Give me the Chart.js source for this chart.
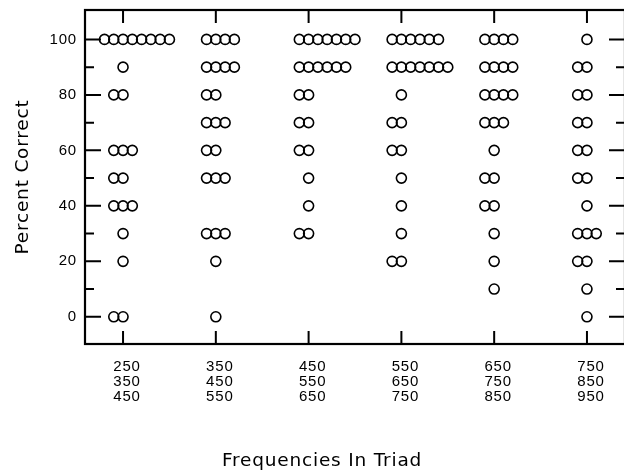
<!DOCTYPE html>
<html>
<head>
<meta charset="utf-8">
<script src="https://cdn.jsdelivr.net/npm/chart.js@4/dist/chart.umd.min.js"></script>
<style>
  html, body { margin: 0; padding: 0; background: #fff; overflow: hidden; }
  #wrap { position: relative; width: 644px; height: 476px; }
</style>
</head>
<body>
<div id="wrap"><canvas id="c" width="644" height="476"></canvas></div>
<script>
// Percent-correct levels (rows of the dot plot)
const levels = [100, 90, 80, 70, 60, 50, 40, 30, 20, 10, 0];

// Frequency triads (one column each)
const triads = [
  ["250", "350", "450"],
  ["350", "450", "550"],
  ["450", "550", "650"],
  ["550", "650", "750"],
  ["650", "750", "850"],
  ["750", "850", "950"]
];

// Number of listeners at each level, same order as `levels`
const counts250 = [8, 1, 2, 0, 3, 2, 3, 1, 1, 0, 2];
const counts350 = [4, 4, 2, 3, 2, 3, 0, 3, 1, 0, 1];
const counts450 = [7, 6, 2, 2, 2, 1, 1, 2, 0, 0, 0];
const counts550 = [6, 7, 1, 2, 2, 1, 1, 1, 2, 0, 0];
const counts650 = [4, 4, 4, 3, 1, 2, 2, 1, 1, 1, 0];
const counts750 = [1, 2, 2, 2, 2, 2, 1, 3, 2, 1, 1];

const yMajorTicks = [0, 20, 40, 60, 80, 100];
const yMinorTicks = [10, 30, 50, 70, 90];

const countsByTriad = [counts250, counts350, counts450, counts550, counts650, counts750];

// Markers sharing a level are laid side by side, STEP category units apart
const STEP = 0.1;
function rowOffsets(n) {
  const start = n === 1 ? 0 : -Math.ceil((n - 1) / 6);
  return Array.from({ length: n }, (_, k) => (start + k) * STEP);
}

const points = [];
countsByTriad.forEach((counts, i) => {
  counts.forEach((n, j) => {
    rowOffsets(n).forEach(dx => points.push({ x: i + dx, y: levels[j] }));
  });
});

const W = 644, H = 476;
const PLOT_LEFT = 85, PLOT_RIGHT = 625, PLOT_TOP = 10, PLOT_BOTTOM = 344;
const TITLE_FONT = { family: "DejaVu Sans", size: 18.5, weight: "normal", lineHeight: 1.2 };
const TITLE_PAD = { top: 8, bottom: 4 };
const titleBoxH = TITLE_PAD.top + TITLE_PAD.bottom + TITLE_FONT.size * TITLE_FONT.lineHeight;
const NUM_FONT = { family: "Liberation Sans", size: 15, lineHeight: 0.97 };

// Slightly widened lettering for all chart text
const spacing = {
  id: "spacing",
  beforeUpdate(chart) { chart.ctx.letterSpacing = "0.8px"; },
  beforeDraw(chart) { chart.ctx.letterSpacing = "0.8px"; }
};

// Boxed frame with inward-pointing tick marks on all four sides
const frameAndTicks = {
  id: "frameAndTicks",
  afterDraw(chart) {
    const { ctx, chartArea: a, scales: { x, y } } = chart;
    ctx.save();
    ctx.strokeStyle = "#000";
    ctx.lineWidth = 2;
    ctx.lineCap = "butt";
    ctx.beginPath();
    [[yMajorTicks, 16], [yMinorTicks, 9]].forEach(([vals, len]) => {
      vals.forEach(v => {
        const py = y.getPixelForValue(v);
        ctx.moveTo(a.left, py); ctx.lineTo(a.left + len, py);
        ctx.moveTo(a.right, py); ctx.lineTo(a.right - len, py);
      });
    });
    triads.forEach((_, i) => {
      const px = x.getPixelForValue(i);
      ctx.moveTo(px, a.top); ctx.lineTo(px, a.top + 13);
      ctx.moveTo(px, a.bottom); ctx.lineTo(px, a.bottom - 13);
    });
    ctx.stroke();
    ctx.lineWidth = 2.2;
    ctx.strokeRect(a.left, a.top, a.right - a.left, a.bottom - a.top);
    ctx.restore();
  }
};

new Chart(document.getElementById("c"), {
  type: "scatter",
  data: {
    datasets: [{
      data: points,
      pointStyle: "circle",
      pointRadius: 5,
      pointBorderWidth: 1.6,
      pointBorderColor: "#000",
      pointBackgroundColor: "rgba(0,0,0,0)",
      showLine: false,
      clip: false
    }]
  },
  options: {
    responsive: false,
    devicePixelRatio: 1,
    animation: false,
    events: [],
    layout: { padding: { top: PLOT_TOP, left: 0, right: 0, bottom: 0 } },
    plugins: {
      legend: { display: false },
      tooltip: { enabled: false },
      title: {
        display: true,
        position: "bottom",
        text: "Frequencies In Triad",
        color: "#000",
        font: TITLE_FONT,
        padding: TITLE_PAD
      }
    },
    scales: {
      x: {
        type: "linear",
        position: "bottom",
        min: -0.41,
        max: 5.41,
        afterBuildTicks: s => { s.ticks = triads.map((_, i) => ({ value: i })); },
        ticks: {
          callback: v => triads[v],
          color: "#000",
          font: NUM_FONT,
          padding: 16,
          labelOffset: 4,
          maxRotation: 0,
          autoSkip: false
        },
        grid: { display: false, drawTicks: false },
        border: { display: false },
        afterFit: s => {
          s.height = H - PLOT_BOTTOM - titleBoxH;
          s.paddingLeft = 0; s.paddingRight = 0;
        }
      },
      y: {
        type: "linear",
        position: "left",
        min: -9.8,
        max: 110.6,
        afterBuildTicks: s => { s.ticks = yMajorTicks.map(v => ({ value: v })); },
        ticks: { color: "#000", font: NUM_FONT, padding: 8 },
        grid: { display: false, drawTicks: false },
        border: { display: false },
        title: {
          display: true,
          text: "Percent Correct",
          color: "#000",
          font: TITLE_FONT,
          padding: { top: 12, bottom: 0 }
        },
        afterFit: s => {
          s.width = PLOT_LEFT;
          s.paddingTop = 0; s.paddingBottom = 0;
        }
      },
      y2: {
        type: "linear",
        position: "right",
        display: true,
        ticks: { display: false },
        grid: { display: false, drawTicks: false },
        border: { display: false },
        afterFit: s => {
          s.width = W - PLOT_RIGHT;
          s.paddingTop = 0; s.paddingBottom = 0;
        }
      }
    }
  },
  plugins: [spacing, frameAndTicks]
});
</script>
</body>
</html>
